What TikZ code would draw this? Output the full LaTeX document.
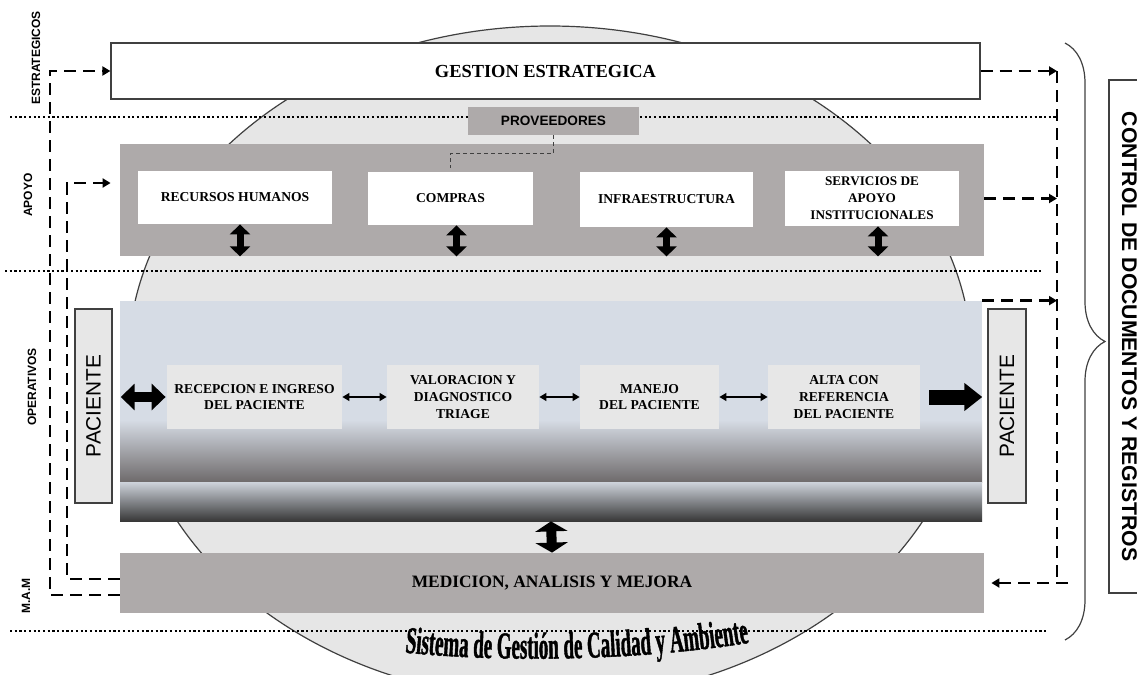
\documentclass[tikz,border=0pt]{standalone}
\usepackage{fontspec}
\setmainfont{Liberation Serif}
\setsansfont{Liberation Sans}
\newfontfamily\sistfont[FakeStretch = 0.5, FakeBold = 1]{Liberation Serif}
\usetikzlibrary{arrows.meta, decorations.pathreplacing, decorations.text}

\definecolor{circgray}{HTML}{E6E6E6}
\definecolor{bandgray}{HTML}{AEAAAA}
\definecolor{procgray}{HTML}{E7E7E7}
\definecolor{opblue}{HTML}{D6DCE5}
\definecolor{opdark}{HTML}{6E6A6B}
\definecolor{linegray}{HTML}{404040}

\begin{document}
\begin{tikzpicture}[x = 0.5pt, y = -0.5pt, > = {Triangle[length = 4pt, width = 4.5pt]},
	box/.style = {inner sep = 0pt, align = center, font = \bfseries\fontsize{6.8}{8.4}\selectfont},
	band/.style = {box, fill = bandgray},
	sub/.style = {box, fill = white, minimum height = 26.5pt},
	proc/.style = {box, fill = procgray, minimum height = 32pt, font = \bfseries\fontsize{6.8}{8.3}\selectfont},
	pac/.style = {draw = linegray, line width = 0.7pt, fill = procgray, inner sep = 0pt, minimum width = 18.5pt, minimum height = 97pt, font = \sffamily\fontsize{10.4}{12}\selectfont},
	lab/.style = {rotate = 90, inner sep = 0pt, font = \sffamily\bfseries\fontsize{6}{7}\selectfont},
	dots/.style = {line width = 1.1pt, dash pattern = on 1.1pt off 1.25pt},
	ctrl/.style = {line width = 1.4pt, dash pattern = on 6pt off 3.5pt},
	link/.style = {line width = 0.6pt, {Triangle[length = 3.5pt, width = 4pt]}-{Triangle[length = 3.5pt, width = 4pt]}},
	vbar/.style = {line width = 3.5pt, {Triangle[length = 5pt, width = 10pt]}-{Triangle[length = 5pt, width = 10pt]}},
	mbar/.style = {line width = 5pt, {Triangle[length = 5pt, width = 16pt]}-{Triangle[length = 5pt, width = 16pt]}},
	hbar/.style = {line width = 5pt, {Triangle[length = 7pt, width = 13pt]}-{Triangle[length = 7pt, width = 13pt]}},
	fat/.style = {line width = 7.5pt, -{Triangle[length = 9pt, width = 13.5pt]}}]

	\useasboundingbox (0, 0) rectangle (1137, 675);

	% Definitions

	\coordinate (outL) at (50, 0);		% dashed return lines
	\coordinate (inL) at (67, 0);
	\coordinate (outR) at (1057, 0);

	% Draw system circle + level lines

	\draw [linegray, line width = 0.6pt, fill = circgray] (550, 363) ellipse [x radius = 211pt, y radius = 168.5pt];

	\draw [dots] (10, 117) -- (1057, 117);
	\draw [dots] (5, 271) -- (1043, 271);
	\draw [dots] (10, 631) -- (1048, 631);

	% Draw operative band

	\fill [opblue] (120, 301) rectangle (982, 421);
	\shade [top color = opblue, middle color = gray!75, bottom color = opdark] (120, 420) rectangle (982, 482);
	\shade [top color = opblue!90!gray, middle color = gray!90, bottom color = black!78] (120, 482) rectangle (982, 521);
	\node (oper) [inner sep = 0pt, minimum width = 431pt, minimum height = 110pt] at (551, 411) {};

	% Draw boxes

	\node (gestion) [box, draw = linegray, line width = 0.6pt, fill = white, minimum width = 434.5pt, minimum height = 28pt, font = \bfseries\fontsize{9.2}{11}\selectfont] at (545.5, 71) {GESTION ESTRATEGICA};

	\node (apoyo) [band, minimum width = 432pt, minimum height = 56pt] at (552, 200) {};
	\node (prov) [band, minimum width = 85.5pt, minimum height = 14pt, font = \sffamily\bfseries\fontsize{6.8}{8}\selectfont] at (553.5, 121) {PROVEEDORES};

	\node (rh) [sub, minimum width = 97pt] at (235, 197.5) {RECURSOS HUMANOS};
	\node (compras) [sub, minimum width = 82.5pt] at (450.5, 198.5) {COMPRAS};
	\node (infra) [sub, minimum width = 86.5pt, minimum height = 27.5pt] at (666.5, 199.5) {INFRAESTRUCTURA};
	\node (serv) [sub, minimum width = 87pt, minimum height = 27.5pt, font = \bfseries\fontsize{6.6}{8.5}\selectfont] at (872, 198.5) {SERVICIOS DE\\APOYO\\INSTITUCIONALES};

	\node (rec) [proc, minimum width = 87.5pt] at (254.5, 397) {RECEPCION E INGRESO\\DEL PACIENTE};
	\node (val) [proc, minimum width = 76pt] at (463, 397) {VALORACION Y\\DIAGNOSTICO\\TRIAGE};
	\node (man) [proc, minimum width = 69.5pt] at (649.5, 397) {MANEJO\\DEL PACIENTE};
	\node (alta) [proc, minimum width = 76pt] at (844, 397) {ALTA CON\\REFERENCIA\\DEL PACIENTE};

	\node (pacL) [pac] at (93.5, 406) {\rotatebox{90}{PACIENTE}};
	\node (pacR) [pac, minimum width = 19pt] at (1007, 406) {\rotatebox{90}{PACIENTE}};

	\node (mam) [band, minimum width = 432pt, minimum height = 30pt, font = \bfseries\fontsize{8.7}{10}\selectfont] at (552, 583) {MEDICION, ANALISIS Y MEJORA};

	\node (control) [draw = linegray, line width = 0.6pt, fill = white, inner sep = 0pt, minimum width = 20.5pt, minimum height = 256.5pt, font = \sffamily\bfseries\fontsize{10.6}{12}\selectfont] at (1129.5, 336.5) {\rotatebox{-90}{CONTROL DE DOCUMENTOS Y REGISTROS}};

	% Draw arrows

	\draw [linegray, line width = 0.5pt, dash pattern = on 2pt off 1.5pt] (prov.south) -- ++(0, 18) -| ([yshift = 2pt]compras.north);

	\draw [vbar] ([xshift = 2.5pt]rh.south) -- ([xshift = 2.5pt]rh.south |- apoyo.south);
	\draw [vbar] ([xshift = 3pt]compras.south) -- ([xshift = 3pt]compras.south |- apoyo.south);
	\draw [vbar] (infra.south) -- (infra.south |- apoyo.south);
	\draw [vbar] ([xshift = 3pt]serv.south) -- ([xshift = 3pt]serv.south |- apoyo.south);

	\draw [hbar] ([xshift = 4pt]pacL.east |- rec.west) -- ([xshift = -0.5pt]rec.west);
	\draw [link] (rec) -- (val);
	\draw [link] (val) -- (man);
	\draw [link] (man) -- (alta);
	\draw [fat] ([xshift = 4.5pt]alta.east) -- ([xshift = -2.5pt]pacR.west |- alta.east);

	\draw [mbar] (oper.south) -- (mam.north);

	% Draw control loops

	\coordinate (apin) at ([xshift = -4.5pt, yshift = 8.5pt]apoyo.west);

	\draw [ctrl, ->] ([yshift = -6pt]mam.west) -| (outL |- gestion.west) -- (gestion.west);
	\draw [ctrl, ->] ([yshift = 2pt]mam.west) -| (inL |- apin) -- (apin);

	\draw [ctrl, ->] (gestion.east) -- (outR |- gestion.east);
	\draw [ctrl, ->] (apoyo.east |- serv.east) -- (outR |- serv.east);
	\draw [ctrl, ->] (oper.north east) -- (outR |- oper.north east);
	\draw [ctrl] (outR |- gestion.east) -- (outR |- mam.east);
	\draw [ctrl, ->] ([xshift = 5.5pt]outR |- mam.east) -- ([xshift = 3.5pt]mam.east);

	% Draw brace + level labels

	\draw [linegray, line width = 0.6pt, decorate, decoration = {brace, amplitude = 20pt}] (1065, 43) -- (1065, 640);

	\node (lestr) [lab] at (36, 58) {ESTRATEGICOS};
	\node (lapoyo) [lab] at (28, 195) {APOYO};
	\node (loper) [lab] at (32, 387) {OPERATIVOS};
	\node (lmam) [lab] at (26, 596) {M.A.M};

	\path [decorate, decoration = {text along path, text align = center,
		text = {|\sistfont\bfseries\fontsize{19}{19}\selectfont|Sistema de Gesti{ó}n de Calidad y Ambiente}}]
		(400, 652) .. controls (500, 663) and (640, 661) .. (754, 642);

\end{tikzpicture}
\end{document}
